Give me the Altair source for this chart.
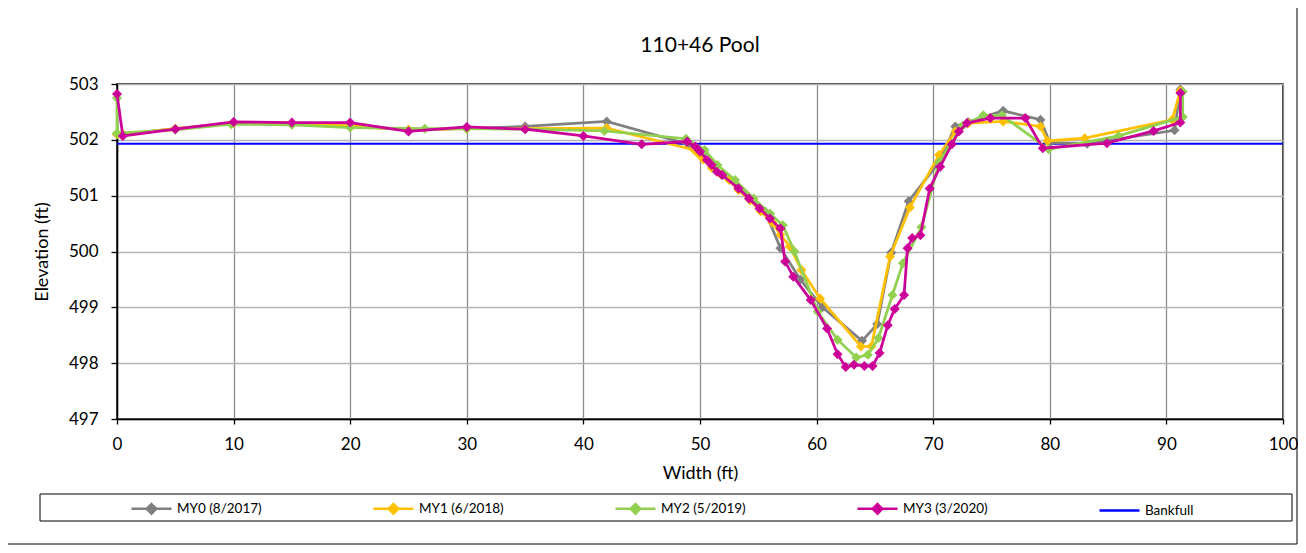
import altair as alt
import pandas as pd

# ---------------- data ----------------
title_text = "110+46 Pool"
series_names = ["MY0 (8/2017)", "MY1 (6/2018)", "MY2 (5/2019)", "MY3 (3/2020)"]
bankfull_name = "Bankfull"

my0_x = [0, 0.5, 5, 10, 15, 20, 25, 30, 35, 42, 49, 49.6, 50.2, 51, 52, 53.3, 54.3, 55.6,
         56.9, 58.6, 60.5, 63.9, 65.2, 66.4, 67.9, 70.5, 71.9, 73.0, 76.0, 79.2, 80.0, 83.2, 90.7, 91.2]
my0_y = [502.1, 502.1, 502.2, 502.3, 502.28, 502.25, 502.18, 502.2, 502.24, 502.33, 501.92, 501.86, 501.74,
         501.55, 501.38, 501.15, 500.95, 500.71, 500.06, 499.5, 499.0, 498.4, 498.7, 499.98, 500.9, 501.6,
         502.24, 502.32, 502.52, 502.36, 501.95, 501.93, 502.17, 502.9]

my1_x = [0, 0.5, 5, 10, 15, 20, 25, 30, 35, 42, 49.5, 49.9, 50.3, 51, 51.8, 52.5, 53.3, 54.3, 55.2, 56.2,
         56.9, 57.7, 58.7, 60.3, 63.8, 64.7, 66.3, 68.0, 70.5, 71.9, 73.0, 76.0, 79.2, 79.8, 83.0, 90.5, 91.2]
my1_y = [502.1, 502.1, 502.2, 502.3, 502.28, 502.25, 502.18, 502.2, 502.2, 502.21, 501.82, 501.74, 501.65,
         501.5, 501.38, 501.28, 501.1, 500.92, 500.72, 500.52, 500.3, 500.09, 499.67, 499.16, 498.3, 498.3,
         499.91, 500.79, 501.73, 502.15, 502.3, 502.33, 502.24, 501.98, 502.03, 502.36, 502.88]

my2_x = [0, 0, 5, 9.8, 15, 20, 26.4, 30, 35, 41.8, 48.8, 50.4, 51.5, 53.0, 54.6, 56.0, 57.1, 58.1,
         60.1, 61.8, 63.4, 64.4, 65.3, 66.5, 67.4, 69.0, 70.5, 72.5, 74.3, 75.9, 79.9, 85.9, 91.4, 91.4]
my2_y = [502.75, 502.12, 502.18, 502.28, 502.27, 502.22, 502.2, 502.2, 502.19, 502.16, 502.02, 501.82,
         501.55, 501.28, 500.95, 500.68, 500.47, 500.0, 498.92, 498.42, 498.1, 498.15, 498.45, 499.22,
         499.79, 500.44, 501.6, 502.25, 502.44, 502.44, 501.83, 502.07, 502.41, 502.86]

my3_x = [0, 0.5, 5, 10, 15, 20, 25, 30, 35, 40, 45, 48.9, 49.6, 50.0, 50.6, 51.0, 51.45, 51.9, 53.3,
         54.2, 55.1, 56.0, 56.9, 57.3, 58.0, 59.5, 60.9, 61.8, 62.5, 63.2, 64.1, 64.8, 65.4, 66.1, 66.7,
         67.5, 67.8, 68.2, 68.9, 69.7, 70.6, 71.6, 72.2, 72.9, 74.9, 77.9, 79.4, 84.9, 88.9, 91.2, 91.2]
my3_y = [502.82, 502.07, 502.19, 502.32, 502.31, 502.31, 502.15, 502.23, 502.19, 502.07, 501.92, 501.97,
         501.88, 501.79, 501.64, 501.55, 501.43, 501.37, 501.13, 500.95, 500.77, 500.59, 500.41, 499.82,
         499.55, 499.13, 498.62, 498.16, 497.93, 497.97, 497.95, 497.95, 498.18, 498.68, 498.97, 499.22,
         500.06, 500.24, 500.29, 501.13, 501.52, 501.92, 502.15, 502.30, 502.39, 502.39, 501.85, 501.94,
         502.16, 502.31, 502.84]

bankfull_x = [0, 100]
bankfull_y = [501.93, 501.93]

x_ticks = [0, 10, 20, 30, 40, 50, 60, 70, 80, 90, 100]
y_ticks = [497, 498, 499, 500, 501, 502, 503]

colors = ["#808080", "#FFC000", "#92D050", "#CC0099"]
bankfull_color = "#0000FF"

# ---------------- frames ----------------
rows = []
for name, xs, ys in zip(series_names, [my0_x, my1_x, my2_x, my3_x], [my0_y, my1_y, my2_y, my3_y]):
    for i, (a, b) in enumerate(zip(xs, ys)):
        rows.append({"series": name, "x": a, "y": b, "idx": i})
for i, (a, b) in enumerate(zip(bankfull_x, bankfull_y)):
    rows.append({"series": bankfull_name, "x": a, "y": b, "idx": i})
df = pd.DataFrame(rows)

FONT = "Lato"
W, H = 1166, 335

xscale = alt.Scale(domain=[0, 100], nice=False, zero=False)
yscale = alt.Scale(domain=[497, 503], nice=False, zero=False)

xenc = alt.X("x:Q", scale=xscale,
             axis=alt.Axis(values=x_ticks, format="d", title="Width (ft)", grid=True, gridColor="#8c8c8c",
                           gridWidth=1.3, domainColor="black", domainWidth=1.5, tickColor="black",
                           tickSize=5, tickWidth=1.3, labelPadding=12, labelFontSize=17,
                           labelFlush=False, labelOverlap=False,
                           labelFont=FONT, labelColor="black", titleFont=FONT, titleFontSize=18,
                           titleFontWeight="normal", titleColor="black", titleY=54,
                           titleBaseline="middle"))
yenc = alt.Y("y:Q", scale=yscale,
             axis=alt.Axis(values=y_ticks, format="d", title="Elevation (ft)", grid=True, gridColor="#b4b4b4",
                           gridWidth=1.5, domainColor="black", domainWidth=1.5, tickColor="black",
                           tickSize=6, tickWidth=1.3, labelPadding=13, labelFontSize=17,
                           labelFlush=False, labelOverlap=False,
                           labelFont=FONT, labelColor="black", titleFont=FONT, titleFontSize=18,
                           titleFontWeight="normal", titleColor="black", titleX=-75,
                           titleBaseline="middle"))

base = alt.Chart(df)

layers = []
# bankfull (drawn first, below the series)
layers.append(
    base.transform_filter(alt.datum.series == bankfull_name)
    .mark_line(color=bankfull_color, strokeWidth=2)
    .encode(x=xenc, y=yenc, order="idx:Q")
)
for name, col in zip(series_names, colors):
    sub = base.transform_filter(alt.datum.series == name)
    layers.append(sub.mark_line(color=col, strokeWidth=2.75).encode(x="x:Q", y="y:Q", order="idx:Q"))
    layers.append(sub.mark_point(shape="diamond", filled=True, size=100, color=col, opacity=1,
                                 strokeWidth=0).encode(x="x:Q", y="y:Q"))

# legend-only layer (points are clipped out of the view)
leg_names = series_names + [bankfull_name]
leg_colors = colors + [bankfull_color]
diamond_path = "M-1,0L1,0M0,-0.24L0.24,0L0,0.24L-0.24,0Z"
line_path = "M-1,0L1,0"
leg_df = pd.DataFrame({"series": leg_names, "x": [-50] * 5, "y": [500] * 5})
legend = alt.Legend(title=None, orient="none", legendX=13, legendY=403, direction="horizontal",
                    columns=5, gridAlign="each", columnPadding=106, symbolSize=1600,
                    symbolStrokeWidth=2.5, labelFont=FONT, labelFontSize=13.5, labelColor="black",
                    labelOffset=4, labelLimit=400, padding=0)
layers.append(
    alt.Chart(leg_df).mark_point(clip=True, opacity=1, strokeWidth=2.5, size=1600).encode(
        x=alt.X("x:Q", scale=xscale),
        y=alt.Y("y:Q", scale=yscale),
        stroke=alt.Stroke("series:N", scale=alt.Scale(domain=leg_names, range=leg_colors),
                          legend=legend, sort=leg_names),
        fill=alt.Fill("series:N", scale=alt.Scale(domain=leg_names, range=leg_colors), legend=legend,
                      sort=leg_names),
        shape=alt.Shape("series:N",
                        scale=alt.Scale(domain=leg_names, range=[diamond_path] * 4 + [line_path]),
                        legend=legend, sort=leg_names),
    )
)

# title as text above the plot
frame_df = pd.DataFrame({"k": [0]})
layers.append(
    alt.Chart(frame_df).mark_text(font=FONT, fontSize=21, color="black", baseline="alphabetic",
                                  align="center", text=title_text).encode(
        x=alt.value(W / 2), y=alt.value(-32))
)

# decorative frames: whole-chart border and legend box
layers.append(
    alt.Chart(frame_df).mark_rect(fill=None, stroke="black", strokeWidth=1).encode(
        x=alt.value(-110), x2=alt.value(1180), y=alt.value(-77), y2=alt.value(460))
)
layers.append(
    alt.Chart(frame_df).mark_rect(fill=None, stroke="black", strokeWidth=1).encode(
        x=alt.value(-77), x2=alt.value(1175), y=alt.value(410), y2=alt.value(437))
)

chart = alt.layer(*layers).properties(
    width=W, height=H,
    autosize=alt.AutoSizeParams(type="none"),
    padding={"left": 109, "top": 76, "right": 15, "bottom": 126},
    background="white",
).configure_view(stroke="black", strokeWidth=1.5)

chart.save("out.html", embed_options={"renderer": "svg", "actions": False})
